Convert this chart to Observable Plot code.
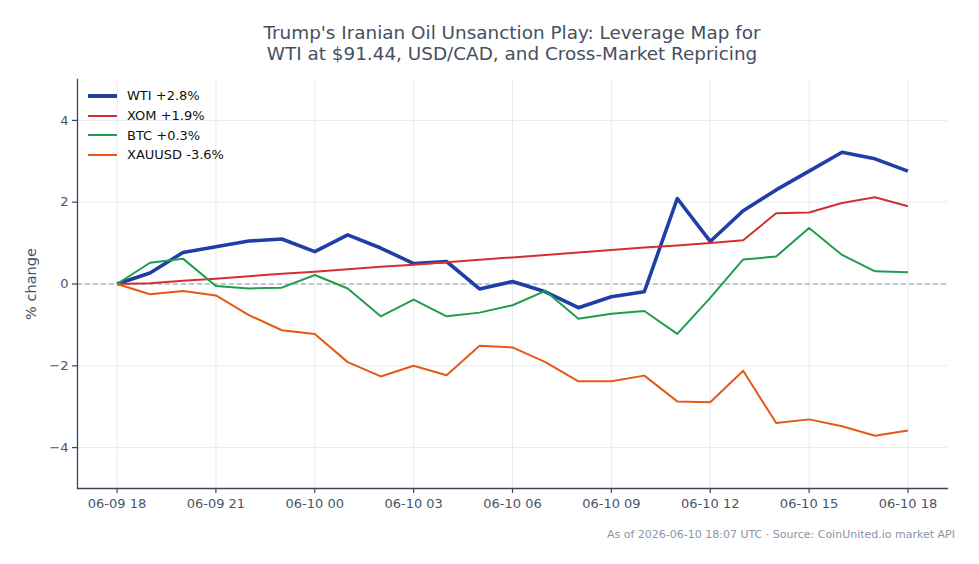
<!DOCTYPE html>
<html>
<head>
<meta charset="utf-8">
<script src="https://cdn.jsdelivr.net/npm/d3@7"></script>
<script src="https://cdn.jsdelivr.net/npm/@observablehq/plot@0.6"></script>
<style>
  html, body { margin: 0; padding: 0; background: #fff; }
  #wrap { position: relative; width: 979px; height: 564px; font-family: "DejaVu Sans", sans-serif; }
  #title { position: absolute; left: 77px; width: 870px; top: 23px; text-align: center;
           font-size: 18.4px; line-height: 20.5px; color: #44505f; }
  #plot { position: absolute; left: 0; top: 70px; }
  #legend { position: absolute; left: 88px; top: 86px; font-size: 13px; color: #111; }
  #legend .row { display: flex; align-items: center; height: 19.7px; }
  #legend .swatch { width: 29px; margin-right: 10px; }
  #caption { position: absolute; right: 24px; top: 528px; font-size: 11px; color: #8a94a6; }
</style>
</head>
<body>
<div id="wrap">
  <div id="title">Trump's Iranian Oil Unsanction Play: Leverage Map for<br>WTI at $91.44, USD/CAD, and Cross-Market Repricing</div>
  <div id="plot"></div>
  <div id="legend"></div>
  <div id="caption">As of 2026-06-10 18:07 UTC · Source: CoinUnited.io market API</div>
</div>
<script>
// Hourly timestamps (UTC)
const times = [
  "2026-06-09T18:00Z", "2026-06-09T19:00Z", "2026-06-09T20:00Z", "2026-06-09T21:00Z",
  "2026-06-09T22:00Z", "2026-06-09T23:00Z", "2026-06-10T00:00Z", "2026-06-10T01:00Z",
  "2026-06-10T02:00Z", "2026-06-10T03:00Z", "2026-06-10T04:00Z", "2026-06-10T05:00Z",
  "2026-06-10T06:00Z", "2026-06-10T07:00Z", "2026-06-10T08:00Z", "2026-06-10T09:00Z",
  "2026-06-10T10:00Z", "2026-06-10T11:00Z", "2026-06-10T12:00Z", "2026-06-10T13:00Z",
  "2026-06-10T14:00Z", "2026-06-10T15:00Z", "2026-06-10T16:00Z", "2026-06-10T17:00Z",
  "2026-06-10T18:00Z"
];

// % change since first hour
const wti = [0, 0.27, 0.77, 0.91, 1.05, 1.10, 0.79, 1.20, 0.88, 0.50, 0.55, -0.12, 0.06,
             -0.19, -0.58, -0.31, -0.19, 2.09, 1.04, 1.79, 2.30, 2.76, 3.22, 3.06, 2.76];
const xom = [0, 0.02, 0.08, 0.13, 0.19, 0.25, 0.30, 0.36, 0.42, 0.47, 0.53, 0.59, 0.65,
             0.71, 0.77, 0.83, 0.89, 0.94, 1.00, 1.07, 1.73, 1.75, 1.98, 2.12, 1.90];
const btc = [0, 0.52, 0.62, -0.05, -0.11, -0.09, 0.22, -0.11, -0.79, -0.38, -0.79, -0.70, -0.52,
             -0.17, -0.85, -0.73, -0.66, -1.22, -0.34, 0.60, 0.67, 1.37, 0.71, 0.31, 0.29];
const xauusd = [0, -0.25, -0.17, -0.28, -0.76, -1.13, -1.22, -1.91, -2.26, -2.00, -2.23, -1.51, -1.55,
                -1.91, -2.38, -2.38, -2.24, -2.87, -2.89, -2.12, -3.40, -3.31, -3.48, -3.71, -3.58];

const seriesNames = ["WTI +2.8%", "XOM +1.9%", "BTC +0.3%", "XAUUSD -3.6%"];
const seriesValues = [wti, xom, btc, xauusd];
const seriesColors = ["#1f3fa6", "#d42f2f", "#1e9e4a", "#e35a17"];
const seriesWidths = [3.6, 2, 2, 2];

const xTickLabels = ["2026-06-09T18:00Z", "2026-06-09T21:00Z", "2026-06-10T00:00Z", "2026-06-10T03:00Z",
                     "2026-06-10T06:00Z", "2026-06-10T09:00Z", "2026-06-10T12:00Z", "2026-06-10T15:00Z",
                     "2026-06-10T18:00Z"];
const yTicks = [-4, -2, 0, 2, 4];

const dates = times.map(t => new Date(t));
const xTicks = xTickLabels.map(t => new Date(t));

// 5% padding either side of the time range
const t0 = dates[0], t1 = dates[dates.length - 1];
const pad = (t1 - t0) * 0.05;
const xDomain = [new Date(+t0 - pad), new Date(+t1 + pad)];

const rows = seriesNames.map((name, k) => seriesValues[k].map((v, i) => ({name, date: dates[i], value: v})));

const axisColor = "#3a4558";
const textColor = "#4a5568";

const chart = Plot.plot({
  width: 979,
  height: 450,
  marginTop: 9,
  marginBottom: 32,
  marginLeft: 77,
  marginRight: 32,
  style: {fontFamily: "DejaVu Sans, sans-serif", fontSize: "13px", color: textColor, background: "transparent"},
  x: {type: "utc", domain: xDomain},
  y: {domain: [-5, 5]},
  marks: [
    Plot.gridX(xTicks, {stroke: "#e6e9ef", strokeOpacity: 1}),
    Plot.gridY(yTicks, {stroke: "#e6e9ef", strokeOpacity: 1}),
    Plot.ruleY([0], {stroke: "#8e9bb3", strokeWidth: 1, strokeDasharray: "5,3"}),
    ...rows.map((data, k) => Plot.line(data, {
      x: "date", y: "value",
      stroke: seriesColors[k], strokeWidth: seriesWidths[k],
      strokeLinejoin: "round", strokeLinecap: "butt"
    })),
    Plot.axisX(xTicks, {
      tickFormat: d3.utcFormat("%m-%d %H"), tickSize: 5, tickPadding: 5,
      stroke: axisColor, strokeWidth: 1.2, fill: textColor, label: null, fontSize: 13
    }),
    Plot.axisY(yTicks, {
      tickSize: 5, tickPadding: 4, stroke: axisColor, strokeWidth: 1.2, fill: textColor,
      label: null, fontSize: 13
    }),
    // y-axis title, drawn on its own so it can be sized independently of tick labels
    Plot.axisY(yTicks, {
      ticks: [], tickSize: 0, text: null,
      label: "% change", labelAnchor: "center", labelArrow: "none", labelOffset: 52,
      fontSize: 14.5, fill: textColor
    }),
    Plot.frame({anchor: "left", stroke: axisColor, strokeWidth: 1.3}),
    Plot.frame({anchor: "bottom", stroke: axisColor, strokeWidth: 1.3})
  ]
});
document.getElementById("plot").appendChild(chart);

// Legend
const legend = document.getElementById("legend");
seriesNames.forEach((name, k) => {
  const row = document.createElement("div");
  row.className = "row";
  const sw = document.createElement("div");
  sw.className = "swatch";
  sw.style.borderTop = `${seriesWidths[k] === 2 ? 2.2 : 4}px solid ${seriesColors[k]}`;
  const label = document.createElement("span");
  label.textContent = name;
  row.appendChild(sw);
  row.appendChild(label);
  legend.appendChild(row);
});
</script>
</body>
</html>
